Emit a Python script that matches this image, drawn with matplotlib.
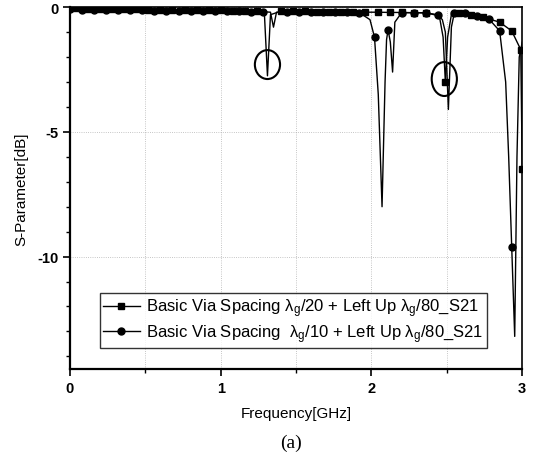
import numpy as np
import matplotlib
matplotlib.use('Agg')
import matplotlib.pyplot as plt
from matplotlib.patches import Ellipse
from matplotlib.ticker import MultipleLocator

plt.rcParams['font.family'] = ['Liberation Sans', 'DejaVu Sans']
plt.rcParams['mathtext.fontset'] = 'custom'
plt.rcParams['mathtext.rm'] = 'Liberation Sans'
plt.rcParams['mathtext.it'] = 'Liberation Sans:italic'
plt.rcParams['axes.unicode_minus'] = False

# Serie 1: lambda_g/20 (cuadrados) - puntos con marcador
s1_mk_f = [0.04, 0.12, 0.20, 0.28, 0.36, 0.44, 0.52, 0.60, 0.68, 0.76, 0.84, 0.92,
           1.00, 1.08, 1.16, 1.24, 1.40, 1.48, 1.56, 1.64, 1.72, 1.80, 1.88, 1.96,
           2.04, 2.12, 2.20, 2.28, 2.36, 2.49, 2.58, 2.66, 2.74, 2.85, 2.93, 2.99, 3.00]
s1_mk_v = [-0.05, -0.06, -0.07, -0.08, -0.08, -0.09, -0.10, -0.10, -0.11, -0.11, -0.12, -0.12,
           -0.13, -0.14, -0.15, -0.15, -0.16, -0.17, -0.17, -0.18, -0.18, -0.19, -0.19, -0.20,
           -0.20, -0.21, -0.21, -0.22, -0.22, -3.00, -0.25, -0.30, -0.40, -0.60, -0.95, -1.70, -6.50]
# Serie 1: puntos intermedios (resonancias)
s1_ex_f = [1.29, 1.31, 1.33, 2.45, 2.475, 2.505, 2.53]
s1_ex_v = [-0.30, -2.75, -0.30, -0.35, -1.20, -1.20, -0.30]

# Serie 2: lambda_g/10 (circulos)
s2_mk_f = [0.00, 0.08, 0.16, 0.24, 0.32, 0.40, 0.48, 0.56, 0.64, 0.72, 0.80, 0.88,
           0.96, 1.04, 1.12, 1.20, 1.28, 1.44, 1.52, 1.60, 1.68, 1.76, 1.84,
           1.92, 2.02, 2.11, 2.20, 2.28, 2.36, 2.44, 2.55, 2.62, 2.70, 2.78, 2.85, 2.93]
s2_mk_v = [-0.08, -0.10, -0.10, -0.12, -0.12, -0.13, -0.13, -0.14, -0.14, -0.15, -0.15, -0.16,
           -0.16, -0.17, -0.17, -0.18, -0.18, -0.19, -0.19, -0.20, -0.20, -0.21, -0.21,
           -0.22, -1.20, -0.90, -0.22, -0.22, -0.23, -0.30, -0.22, -0.25, -0.36, -0.48, -0.95, -9.60]
s2_ex_f = [1.33, 1.35, 1.37, 1.99, 2.045, 2.07, 2.09, 2.10, 2.125, 2.14, 2.155,
           2.47, 2.49, 2.51, 2.53, 2.89, 2.91, 2.95, 2.965, 2.98, 3.00]
s2_ex_v = [-0.20, -0.80, -0.20, -0.50, -3.50, -8.00, -3.00, -1.30, -1.40, -2.60, -0.60,
           -0.50, -1.00, -4.10, -0.80, -3.00, -6.00, -13.20, -6.00, -2.00, -1.40]

labels = [r'Basic Via Spacing $\mathrm{\lambda_g}$/20 + Left Up $\mathrm{\lambda_g}$/80_S21',
          r'Basic Via Spacing  $\mathrm{\lambda_g}$/10 + Left Up $\mathrm{\lambda_g}$/80_S21']


def merge(mf, mv, ef, ev):
    f = np.array(mf + ef)
    v = np.array(mv + ev)
    o = np.argsort(f, kind='stable')
    return f[o], v[o]


f1, v1 = merge(s1_mk_f, s1_mk_v, s1_ex_f, s1_ex_v)
f2, v2 = merge(s2_mk_f, s2_mk_v, s2_ex_f, s2_ex_v)

fig = plt.figure(figsize=(5.34, 4.56), dpi=100)
ax = fig.add_axes([0.131, 0.189, 0.847, 0.793])

ax.plot(f1, v1, color='black', lw=1.0)
ax.plot(s1_mk_f, s1_mk_v, ls='none', marker='s', ms=5, color='black')
ax.plot(f2, v2, color='black', lw=1.0)
ax.plot(s2_mk_f, s2_mk_v, ls='none', marker='o', ms=5, color='black')

# manejadores para la leyenda
h1, = ax.plot([], [], color='black', lw=1.0, marker='s', ms=5)
h2, = ax.plot([], [], color='black', lw=1.0, marker='o', ms=5)
leg = ax.legend([h1, h2], labels, loc='lower left', bbox_to_anchor=(0.066, 0.058),
                fontsize=12, frameon=True, fancybox=False, edgecolor='black',
                handlelength=2.2, borderpad=0.2, labelspacing=0.15, handletextpad=0.4,
                borderaxespad=0.0, markerscale=1.0)
leg.get_frame().set_linewidth(1.0)

# circulos marcando resonancias
ax.add_patch(Ellipse((1.31, -2.3), 0.167, 1.16, fill=False, lw=1.5, color='black'))
ax.add_patch(Ellipse((2.483, -2.88), 0.167, 1.36, fill=False, lw=1.5, color='black'))

ax.set_xlim(0, 3)
ax.set_ylim(-14.5, 0)
ax.xaxis.set_major_locator(MultipleLocator(1))
ax.xaxis.set_minor_locator(MultipleLocator(0.5))
ax.yaxis.set_major_locator(MultipleLocator(5))
ax.yaxis.set_minor_locator(MultipleLocator(1))
ax.tick_params(which='major', direction='out', length=5, width=1.2, labelsize=10.5)
ax.tick_params(which='minor', direction='out', length=3, width=1.0)
for t in ax.get_xticklabels() + ax.get_yticklabels():
    t.set_fontweight('bold')

ax.grid(True, which='both', axis='x', ls=':', lw=0.6, color='gray', alpha=0.6)
ax.grid(True, which='major', axis='y', ls=':', lw=0.6, color='gray', alpha=0.6)

for s in ['left', 'bottom']:
    ax.spines[s].set_linewidth(1.6)
for s in ['top', 'right']:
    ax.spines[s].set_linewidth(1.2)

ax.set_xlabel('Frequency[GHz]', fontsize=11, labelpad=8)
ax.set_ylabel('S-Parameter[dB]', fontsize=11, labelpad=6)
fig.text(0.545, 0.008, '(a)', fontsize=14, family='Liberation Serif', ha='center', va='bottom')

fig.savefig('out.png', dpi=100)
